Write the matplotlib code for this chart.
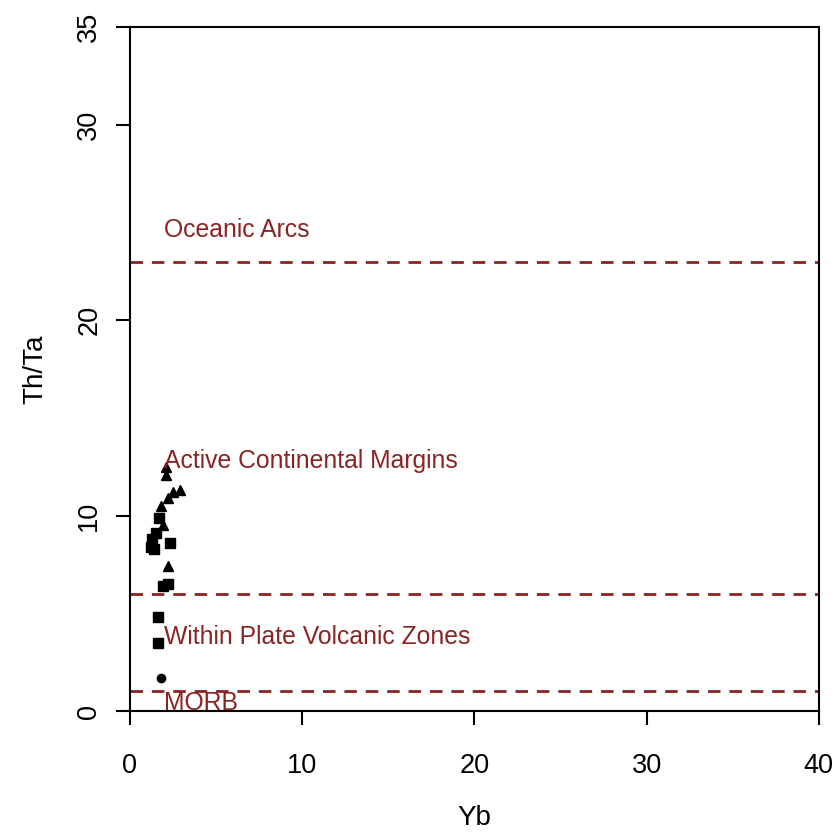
import matplotlib
matplotlib.use("Agg")
import matplotlib.pyplot as plt

# Th/Ta vs Yb tectonic discrimination
sq_yb = [1.6, 1.6, 1.9, 2.2, 2.3, 1.3, 1.5, 1.2, 1.7, 1.4]
sq_thta = [4.8, 3.5, 6.4, 6.5, 8.6, 8.8, 9.1, 8.4, 9.9, 8.3]
tri_yb = [2.1, 2.1, 2.9, 2.5, 2.2, 1.8, 2.2, 1.9]
tri_thta = [12.5, 12.1, 11.3, 11.2, 10.9, 10.5, 7.4, 9.5]
dot_yb = [1.8]
dot_thta = [1.7]

bounds = [23, 6, 1]
zones = ["Oceanic Arcs", "Active Continental Margins",
         "Within Plate Volcanic Zones", "MORB"]
zone_y = [24.6, 12.8, 3.8, 0.4]

plt.rcParams["font.family"] = ["Liberation Sans", "DejaVu Sans"]
red = "#8b2323"

fig = plt.figure(figsize=(8.36, 8.36), dpi=100)
ax = fig.add_axes([0.1555, 0.1495, 0.824, 0.818])

for b in bounds:
    ax.axhline(b, color=red, ls=(0, (4.5, 3.2)), lw=2)
for lab, y in zip(zones, zone_y):
    ax.text(2.0, y, lab, color=red, fontsize=17.8, va="center", ha="left")

ax.plot(sq_yb, sq_thta, "s", color="black", ms=7)
ax.plot(tri_yb, tri_thta, "^", color="black", ms=7.5)
ax.plot(dot_yb, dot_thta, "o", color="black", ms=6)

ax.set_xlim(0, 40)
ax.set_ylim(0, 35)
ax.set_xticks([0, 10, 20, 30, 40])
ax.set_yticks([0, 10, 20, 30, 35])
ax.set_yticklabels(["0", "10", "20", "30", "35"], rotation=90, va="center")
ax.tick_params(direction="out", length=10, width=1.5, labelsize=19.5)
ax.tick_params(axis="x", pad=20)
ax.tick_params(axis="y", pad=10)
for s in ax.spines.values():
    s.set_linewidth(1.5)
ax.set_xlabel("Yb", fontsize=20, labelpad=19)
ax.set_ylabel("Th/Ta", fontsize=20, labelpad=20)

fig.savefig("out.png", dpi=100)
